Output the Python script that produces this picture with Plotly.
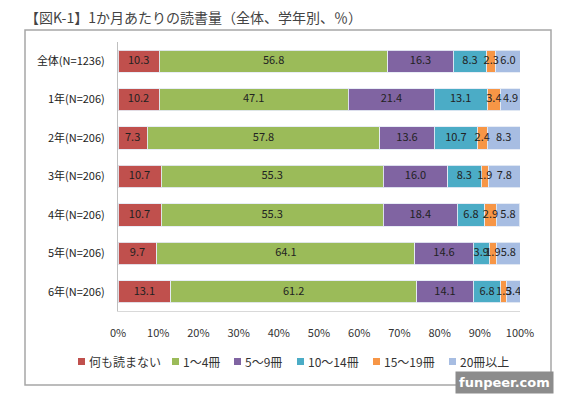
import plotly.graph_objects as go

categories = ["全体(N=1236)", "1年(N=206)", "2年(N=206)", "3年(N=206)", "4年(N=206)", "5年(N=206)", "6年(N=206)"]
series_names = ["何も読まない", "1～4冊", "5～9冊", "10～14冊", "15～19冊", "20冊以上"]
none_read = [10.3, 10.2, 7.3, 10.7, 10.7, 9.7, 13.1]
books_1_4 = [56.8, 47.1, 57.8, 55.3, 55.3, 64.1, 61.2]
books_5_9 = [16.3, 21.4, 13.6, 16.0, 18.4, 14.6, 14.1]
books_10_14 = [8.3, 13.1, 10.7, 8.3, 6.8, 3.9, 6.8]
books_15_19 = [2.3, 3.4, 2.4, 1.9, 2.9, 1.9, 1.5]
books_20_plus = [6.0, 4.9, 8.3, 7.8, 5.8, 5.8, 3.4]
x_ticks = [0, 10, 20, 30, 40, 50, 60, 70, 80, 90, 100]
x_tick_labels = ["0%", "10%", "20%", "30%", "40%", "50%", "60%", "70%", "80%", "90%", "100%"]

series_values = [none_read, books_1_4, books_5_9, books_10_14, books_15_19, books_20_plus]
colors = ["#C0504D", "#9BBB59", "#8064A2", "#4BACC6", "#F79646", "#A7BDE2"]

font_family = "Noto Sans CJK JP, Noto Sans, sans-serif"

fig = go.Figure()
for name, vals, col in zip(series_names, series_values, colors):
    fig.add_trace(go.Bar(
        y=categories, x=vals, name=name, orientation="h",
        marker=dict(color=col, line=dict(color="rgba(230,235,245,0.9)", width=1)),
        hoverinfo="x+name", showlegend=False,
    ))

# value labels drawn on top of all bars, centered in each segment
lab_x, lab_y, lab_t = [], [], []
for i, cat in enumerate(categories):
    cum = 0.0
    for vals in series_values:
        v = vals[i]
        lab_x.append(cum + v / 2)
        lab_y.append(cat)
        lab_t.append(f"{v:.1f}")
        cum += v
fig.add_trace(go.Scatter(
    x=lab_x, y=lab_y, text=lab_t, mode="text", showlegend=False, hoverinfo="skip",
    textposition="middle center",
    textfont=dict(size=11, color="#222222", family=font_family),
))

# page has an 8px body margin: figure is drawn at page offset (8, 8)
OFF = 8
FW, FH = 571 - OFF, 394 - OFF
# plot area in page pixels
L, R, T, B = 118, 520, 42, 311
W, H = R - L, B - T
def px(x):
    return (x - L) / W
def py(y):
    return (B - y) / H

shapes = [dict(type="rect", xref="paper", yref="paper",
               x0=px(25), x1=px(551), y0=py(385), y1=py(30),
               line=dict(color="#A6A6A6", width=1.5), fillcolor="rgba(0,0,0,0)", layer="below")]
annotations = [dict(text="<b>funpeer.com</b>", xref="paper", yref="paper",
                    x=px(554), xanchor="right", y=py(394), yanchor="bottom",
                    showarrow=False, bgcolor="#8C8C8C", borderpad=3,
                    font=dict(size=13, color="white", family="DejaVu Sans, sans-serif"))]

# legend row (manual, to match the compact spacing of the reference)
legend_x = [78, 172, 234, 297, 373, 449]
legend_y = 361
for name, col, lx in zip(series_names, colors, legend_x):
    shapes.append(dict(type="rect", xref="paper", yref="paper",
                       x0=px(lx), x1=px(lx + 7), y0=py(legend_y + 4), y1=py(legend_y - 3),
                       line=dict(width=0), fillcolor=col))
    annotations.append(dict(text=name, xref="paper", yref="paper",
                            x=px(lx + 9), xanchor="left", y=py(legend_y), yanchor="middle",
                            showarrow=False, font=dict(size=12, color="#333333")))

fig.update_layout(
    barmode="stack",
    bargap=0.42,
    width=FW, height=FH,
    margin=dict(l=L - OFF, r=FW - (R - OFF), t=T - OFF, b=FH - (B - OFF), autoexpand=False),
    paper_bgcolor="white", plot_bgcolor="white",
    font=dict(family=font_family, color="#333333", size=11),
    showlegend=False,
    xaxis=dict(range=[0, 100], tickvals=x_ticks, ticktext=x_tick_labels,
               showgrid=False, zeroline=False, showline=True, linecolor="#D9D9D9",
               ticks="", ticklabelstandoff=12, tickfont=dict(size=11, color="#333333"),
               fixedrange=True),
    yaxis=dict(autorange="reversed", showgrid=False, showline=True, linecolor="#BFBFBF",
               ticks="", ticklabelstandoff=10, tickfont=dict(size=11, color="#222222")),
    title=dict(text="【図K-1】1か月あたりの読書量（全体、学年別、％）",
               x=(25 - OFF) / FW, xanchor="left", y=1 - (18 - OFF) / FH, yanchor="middle",
               font=dict(size=14, color="#444444", family=font_family)),
    shapes=shapes,
    annotations=annotations,
)

fig.write_html("out.html")
